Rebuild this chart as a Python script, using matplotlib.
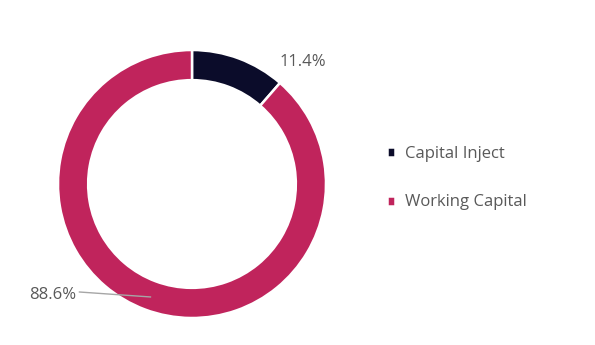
import matplotlib
matplotlib.use("Agg")
import matplotlib.pyplot as plt

categories = ["Capital Inject", "Working Capital"]
values = [11.4, 88.6]
labels = ["11.4%", "88.6%"]
colors = ["#0B0C2A", "#C0245C"]

plt.rcParams['font.family'] = ['Open Sans', 'DejaVu Sans']
W, H = 595, 345
fig = plt.figure(figsize=(W / 100, H / 100), dpi=100)
cx, cy, r = 192, 184, 134
ax = fig.add_axes([(cx - r) / W, (H - cy - r) / H, 2 * r / W, 2 * r / H])
wedges, _ = ax.pie(values, colors=colors, startangle=90, counterclock=False,
                   radius=1.0, wedgeprops=dict(width=0.225, edgecolor="white", linewidth=1.8))
ax.set_xlim(-1, 1)
ax.set_ylim(-1, 1)
ax.set_aspect("equal")
ax.axis("off")

txtc = "#595959"
ax.text(0.83, 0.91, labels[0], fontsize=12, color=txtc, ha="center", va="center")
ax.text(-0.865, -0.83, labels[1], fontsize=12, color=txtc, ha="right", va="center")
ax.plot([-0.84, -0.31], [-0.806, -0.843], color="#A6A6A6", linewidth=1.0, clip_on=False)

leg = fig.legend(wedges, categories, loc="upper left", bbox_to_anchor=(372 / W, 1 - 131 / H),
                 frameon=False, fontsize=12, labelcolor=txtc, handlelength=0.5, handleheight=0.55,
                 handletextpad=0.6, labelspacing=1.95)

fig.savefig("out.png", dpi=100, facecolor="white")
